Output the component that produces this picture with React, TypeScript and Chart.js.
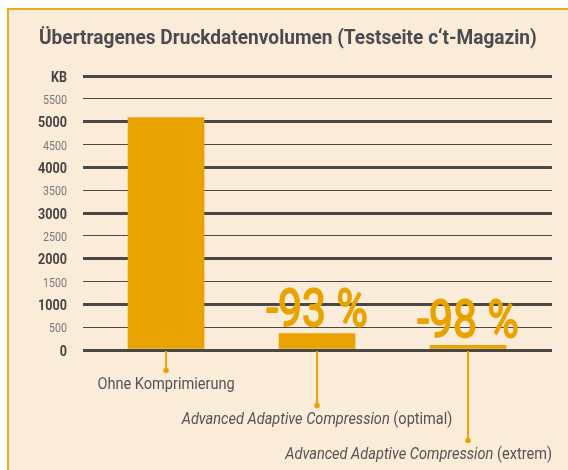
import React, { useEffect, useRef } from "react";
import { Chart, registerables } from "chart.js";

Chart.register(...registerables);

// ---------- data ----------
const TITLE = "Übertragenes Druckdatenvolumen (Testseite c‘t-Magazin)";
const categoryNames = [
  "Ohne Komprimierung",
  "Advanced Adaptive Compression",
  "Advanced Adaptive Compression",
];
const categoryModes = ["", "(optimal)", "(extrem)"];
const volumesKB = [5090, 360, 105];
const reductionLabels = ["", "-93 %", "-98 %"];
const yMax = 6000;
const yStep = 500;
const yUnitLabel = "KB";

// ---------- style ----------
const FONT = "Roboto, 'Liberation Sans', sans-serif";
const ORANGE = "#E9A300";
const BORDER_ORANGE = "#EBAA1E";
const CREAM = "#FAECD9";
const DARK = "#4a4747";
const TEXT = "#545252";

// draws horizontally condensed text (the original uses a condensed typeface)
function drawText(
  ctx: CanvasRenderingContext2D,
  text: string,
  x: number,
  y: number,
  font: string,
  color: string,
  align: "left" | "center" | "right",
  sx: number,
  strokeW = 0
) {
  ctx.save();
  ctx.font = font;
  const w = ctx.measureText(text).width * sx;
  const left = align === "left" ? x : align === "center" ? x - w / 2 : x - w;
  ctx.translate(left, y);
  ctx.scale(sx, 1);
  ctx.fillStyle = color;
  ctx.textAlign = "left";
  ctx.textBaseline = "alphabetic";
  ctx.fillText(text, 0, 0);
  if (strokeW > 0) {
    ctx.strokeStyle = color;
    ctx.lineWidth = strokeW;
    ctx.lineJoin = "round";
    ctx.strokeText(text, 0, 0);
  }
  ctx.restore();
  return w;
}

function textWidth(ctx: CanvasRenderingContext2D, text: string, font: string, sx: number) {
  ctx.save();
  ctx.font = font;
  const w = ctx.measureText(text).width * sx;
  ctx.restore();
  return w;
}

const decorPlugin = {
  id: "decor",
  beforeDraw(chart: any) {
    const { ctx, width, height } = chart;
    ctx.save();
    ctx.fillStyle = "#ffffff";
    ctx.fillRect(0, 0, width, height);
    ctx.fillStyle = CREAM;
    ctx.fillRect(7, 8, width - 7, height - 8);
    ctx.fillStyle = BORDER_ORANGE;
    ctx.fillRect(7, 8, width - 7, 2);
    ctx.fillRect(7, 8, 2, height - 8);
    ctx.restore();
    drawText(ctx, TITLE, 39, 44, `bold 20px ${FONT}`, "#4a4a4f", "left", 0.955);
  },
  afterDatasetsDraw(chart: any) {
    const { ctx, chartArea } = chart;
    const meta = chart.getDatasetMeta(0);
    const yScale = chart.scales.y;
    const base = yScale.getPixelForValue(0);

    // y tick labels
    yScale.ticks.forEach((t: any) => {
      const major = t.value % 1000 === 0;
      const label = t.value === yMax ? yUnitLabel : String(t.value);
      const py = yScale.getPixelForValue(t.value);
      if (major) {
        drawText(ctx, label, chartArea.left - 16, py + 5.5, `bold 15px ${FONT}`, "#454343", "right", 0.84);
      } else {
        drawText(ctx, label, chartArea.left - 16, py + 5, `13px ${FONT}`, "#7a7776", "right", 0.82);
      }
    });

    ctx.save();
    meta.data.forEach((bar: any, i: number) => {
      const x = bar.x;
      if (reductionLabels[i]) {
        drawText(ctx, reductionLabels[i], x, bar.y - 8, `52px ${FONT}`, ORANGE, "center", 0.82, 1.8);
      }
      const baseline = base + 38.5 + 35 * i;
      const dotY = baseline - 18;
      ctx.strokeStyle = ORANGE;
      ctx.lineWidth = 2;
      ctx.beginPath();
      ctx.moveTo(x, base + 1);
      ctx.lineTo(x, dotY);
      ctx.stroke();
      ctx.fillStyle = ORANGE;
      ctx.beginPath();
      ctx.arc(x, dotY, 2.8, 0, Math.PI * 2);
      ctx.fill();

      const sx = 0.91;
      const mainFont = `${i > 0 ? "italic " : ""}16px ${FONT}`;
      const modeFont = `16px ${FONT}`;
      const mode = categoryModes[i] ? " " + categoryModes[i] : "";
      const w1 = textWidth(ctx, categoryNames[i], mainFont, sx);
      const w2 = mode ? textWidth(ctx, mode, modeFont, sx) : 0;
      const total = w1 + w2;
      let left = x - total / 2;
      if (left + total > chartArea.right) left = chartArea.right - total;
      drawText(ctx, categoryNames[i], left, baseline, mainFont, TEXT, "left", sx);
      if (mode) drawText(ctx, mode, left + w1, baseline, modeFont, TEXT, "left", sx);
    });
    ctx.restore();
  },
};

export default function App() {
  const ref = useRef<HTMLCanvasElement>(null);
  useEffect(() => {
    document.body.style.margin = "0";
    const canvas = ref.current!;
    const chart = new Chart(canvas, {
      type: "bar",
      data: {
        datasets: [
          {
            data: volumesKB.map((v, i) => ({ x: i, y: v })),
            backgroundColor: ORANGE,
            barThickness: 76,
          },
        ],
      },
      options: {
        responsive: false,
        animation: false,
        layout: { padding: { top: 76, bottom: 120, left: 0, right: 16 } },
        plugins: { legend: { display: false }, tooltip: { enabled: false } },
        scales: {
          x: {
            type: "linear",
            min: -0.55,
            max: 2.556,
            offset: false,
            display: false,
          },
          y: {
            min: 0,
            max: yMax,
            border: { display: false },
            afterFit(scale: any) {
              scale.width = 83;
            },
            grid: {
              drawTicks: false,
              color: DARK,
              lineWidth: (c: any) => (c.tick && c.tick.value % 1000 === 0 ? 3 : 1),
            },
            ticks: {
              stepSize: yStep,
              display: false,
            },
          },
        },
      },
      plugins: [decorPlugin],
    } as any);
    return () => chart.destroy();
  }, []);
  return <canvas ref={ref} width={568} height={470} style={{ display: "block" }} />;
}
